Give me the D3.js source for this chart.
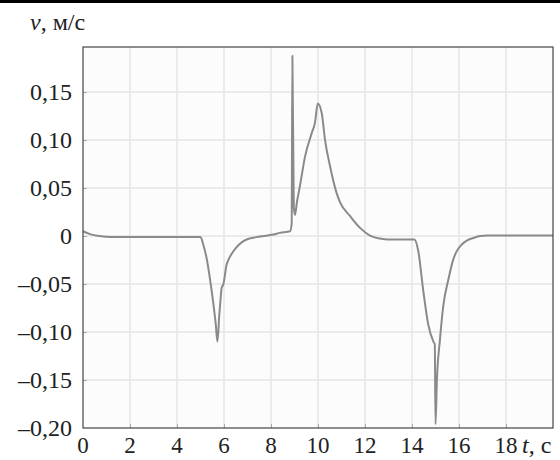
<!DOCTYPE html>
<html>
<head>
<meta charset="utf-8">
<script src="https://cdn.jsdelivr.net/npm/d3@7"></script>
<style>
  body { margin: 0; background: #fff; }
  svg { display: block; }
</style>
</head>
<body>
<div id="chart"></div>
<script>
// Time, s
const timeValues = [
  0, 0.3, 0.7, 1.2, 5.0, 5.12, 5.26, 5.4, 5.55, 5.65, 5.72, 5.8, 5.86, 5.9, 5.97,
  6.11, 6.23, 6.4, 6.61, 6.96, 7.53, 8.1, 8.38, 8.81, 8.88, 8.91, 8.97, 9.02,
  9.1, 9.23, 9.45, 9.73, 9.87, 9.99, 10.16, 10.3, 10.51, 10.79, 10.94, 11.36,
  11.79, 12.21, 12.64, 13.0, 14.1, 14.27, 14.48, 14.69, 14.91, 14.97, 15.0,
  15.06, 15.19, 15.33, 15.55, 15.76, 15.9, 16.11, 16.33, 16.61, 16.9, 17.2, 20
];
// Speed, m/s
const speedValues = [
  0.005, 0.002, 0.0, -0.001, -0.001, -0.009, -0.023, -0.044, -0.071, -0.092, -0.110, -0.082, -0.064, -0.054, -0.0505,
  -0.030, -0.0227, -0.0158, -0.0096, -0.0036, -0.0005, 0.0016, 0.0033, 0.005, 0.013, 0.188, 0.03, 0.022,
  0.035, 0.052, 0.083, 0.107, 0.118, 0.138, 0.128, 0.100, 0.073, 0.045, 0.035, 0.021,
  0.0085, 0.0005, -0.0026, -0.0035, -0.0035, -0.016, -0.057, -0.092, -0.110, -0.113, -0.196,
  -0.150, -0.108, -0.073, -0.045, -0.024, -0.016, -0.009, -0.0047, -0.002, 0.0, 0.0005, 0.0005
];

const xTicks = [0, 2, 4, 6, 8, 10, 12, 14, 16, 18];
const yTicks = [-0.2, -0.15, -0.1, -0.05, 0, 0.05, 0.1, 0.15];
const yTickLabels = ['–0,20', '–0,15', '–0,10', '–0,05', '0', '0,05', '0,10', '0,15'];

const data = timeValues.map((t, i) => ({ t: t, v: speedValues[i] }));

const width = 560, height = 460;
const margin = { top: 47, right: 7, bottom: 32, left: 83 };
const font = '"Liberation Serif", "Times New Roman", serif';

const x = d3.scaleLinear().domain([0, 20]).range([margin.left, width - margin.right]);
const y = d3.scaleLinear().domain([-0.2, 0.197]).range([height - margin.bottom, margin.top]);

const svg = d3.select('#chart').append('svg')
  .attr('width', width)
  .attr('height', height)
  .attr('font-family', font);

// black rule along the top edge
svg.append('rect')
  .attr('x', 0).attr('y', 0)
  .attr('width', width).attr('height', 3)
  .attr('fill', '#000');

// plot background
svg.append('rect')
  .attr('x', x(0)).attr('y', y(0.197))
  .attr('width', x(20) - x(0)).attr('height', y(-0.2) - y(0.197))
  .attr('fill', '#fcfcfc');

// grid
svg.append('g')
  .selectAll('line.vgrid')
  .data(xTicks.filter(d => d > 0))
  .enter().append('line')
  .attr('x1', d => x(d)).attr('x2', d => x(d))
  .attr('y1', y(0.197)).attr('y2', y(-0.2))
  .attr('stroke', '#e6e6e6')
  .attr('stroke-width', 1.5);

svg.append('g')
  .selectAll('line.hgrid')
  .data(yTicks.filter(d => d > -0.2))
  .enter().append('line')
  .attr('x1', x(0)).attr('x2', x(20))
  .attr('y1', d => y(d)).attr('y2', d => y(d))
  .attr('stroke', '#e6e6e6')
  .attr('stroke-width', 1.5);

// small inner ticks
const xAxis = svg.append('g')
  .attr('transform', 'translate(0,' + y(-0.2) + ')')
  .call(d3.axisBottom(x).tickValues(xTicks.filter(d => d > 0)).tickSize(-4).tickFormat(''));
xAxis.select('.domain').remove();
xAxis.selectAll('line').attr('stroke', '#aaa');

const yAxis = svg.append('g')
  .attr('transform', 'translate(' + x(0) + ',0)')
  .call(d3.axisLeft(y).tickValues(yTicks.filter(d => d > -0.2)).tickSize(-4).tickFormat(''));
yAxis.select('.domain').remove();
yAxis.selectAll('line').attr('stroke', '#aaa');

// curve
const line = d3.line()
  .x(d => x(d.t))
  .y(d => y(d.v))
  .curve(d3.curveMonotoneX);

svg.append('path')
  .datum(data)
  .attr('fill', 'none')
  .attr('stroke', '#8a8a8a')
  .attr('stroke-width', 2)
  .attr('stroke-linejoin', 'round')
  .attr('d', line);

// frame
svg.append('rect')
  .attr('x', x(0)).attr('y', y(0.197))
  .attr('width', x(20) - x(0)).attr('height', y(-0.2) - y(0.197))
  .attr('fill', 'none')
  .attr('stroke', '#444')
  .attr('stroke-width', 1.2);

// tick labels
svg.append('g')
  .selectAll('text')
  .data(yTicks)
  .enter().append('text')
  .attr('x', 72)
  .attr('y', d => y(d) + 8)
  .attr('text-anchor', 'end')
  .attr('font-size', 24)
  .attr('fill', '#222')
  .text((d, i) => yTickLabels[i]);

svg.append('g')
  .selectAll('text')
  .data(xTicks)
  .enter().append('text')
  .attr('x', d => x(d))
  .attr('y', 453)
  .attr('text-anchor', 'middle')
  .attr('font-size', 23)
  .attr('fill', '#222')
  .text(d => d);

// axis names
const yName = svg.append('text')
  .attr('x', 30).attr('y', 30)
  .attr('font-size', 24)
  .attr('fill', '#222');
yName.append('tspan').attr('font-style', 'italic').text('v');
yName.append('tspan').text(', м/с');

const xName = svg.append('text')
  .attr('x', 522).attr('y', 453)
  .attr('font-size', 24)
  .attr('fill', '#222');
xName.append('tspan').attr('font-style', 'italic').text('t');
xName.append('tspan').text(', с');
</script>
</body>
</html>
